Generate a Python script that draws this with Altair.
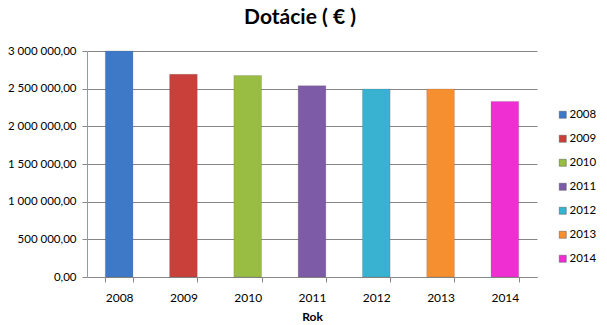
import altair as alt
import pandas as pd

years = ["2008", "2009", "2010", "2011", "2012", "2013", "2014"]
values = [3000000, 2690000, 2675000, 2540000, 2495000, 2495000, 2330000]
colors = ["#3D79C6", "#C9403B", "#99BD42", "#7D5BA6", "#38B2D0", "#F68F30", "#F02FD3"]

df = pd.DataFrame({"Rok": years, "Dotacie": values})

FONT = "Lato"

bars = alt.Chart(df).mark_bar(stroke="#555555", strokeWidth=0.4, strokeOpacity=0.5).encode(
    x=alt.X("Rok:N", title="Rok",
            scale=alt.Scale(paddingInner=0.57, paddingOuter=0.285),
            axis=alt.Axis(labelAngle=0, labelFontSize=12, labelColor="#000000",
                          labelPadding=10, tickBand="extent", tickSize=5,
                          titleFontSize=12, titleFontWeight="bold", titlePadding=8,
                          domainColor="#888888", tickColor="#888888", grid=False)),
    y=alt.Y("Dotacie:Q", title=None,
            scale=alt.Scale(domain=[0, 3000000], nice=False),
            axis=alt.Axis(values=[0, 500000, 1000000, 1500000, 2000000, 2500000, 3000000],
                          format=",.2f", labelFontSize=11.5, labelColor="#000000",
                          labelPadding=6, tickSize=5, tickColor="#888888",
                          domainColor="#8A9BB5", gridColor="#868686", gridWidth=1)),
    color=alt.Color("Rok:N", title=None,
                    scale=alt.Scale(domain=years, range=colors),
                    legend=alt.Legend(orient="none", legendX=470, legendY=58,
                                      symbolType="square", symbolSize=49,
                                      symbolStrokeWidth=0.5, labelFontSize=11.5,
                                      labelColor="#000000", rowPadding=11, labelOffset=1)),
)

chart = bars.properties(
    width=450, height=226,
    title=alt.TitleParams("Dotácie ( € )", fontSize=21, fontWeight="bold", font=FONT,
                          color="#000000", anchor="middle", dx=-12, offset=17),
    autosize=alt.AutoSizeParams(type="none"),
    padding={"left": 87, "top": 51, "right": 70, "bottom": 48},
).configure(
    font=FONT,
    locale={"number": {"decimal": ",", "thousands": " ", "grouping": [3], "currency": ["", " €"]}},
).configure_view(stroke=None).configure_axis(labelFont=FONT, titleFont=FONT).configure_legend(labelFont=FONT)

chart.save("out.html", embed_options={"renderer": "svg", "actions": False})
